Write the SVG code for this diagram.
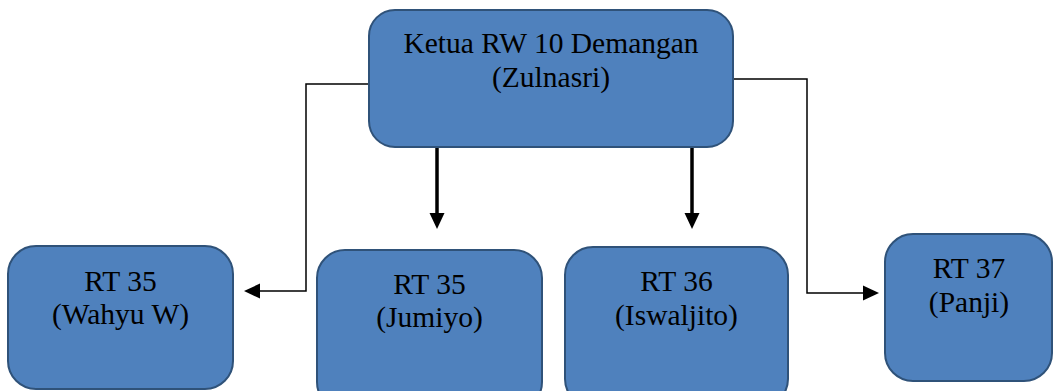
<svg xmlns="http://www.w3.org/2000/svg" width="1054" height="391" viewBox="0 0 1054 391">
<style>
.box{fill:#4F81BD;stroke:#2F5279;stroke-width:2}
.t{font-family:"Liberation Serif","Times New Roman",serif;font-size:29.5px;fill:#000;text-anchor:middle}
.thin{fill:none;stroke:#000;stroke-width:1.5}
.thick{fill:none;stroke:#000;stroke-width:3.5}
</style>
<defs>
<marker id="ah" markerUnits="userSpaceOnUse" markerWidth="16" markerHeight="16" refX="0" refY="7.5" orient="auto" overflow="visible">
<path d="M0,0 L16,7.5 L0,15 z" fill="#000"/>
</marker>
</defs>
<g id="connectors">
<path class="thin" d="M369,84 H306 V291 H260" marker-end="url(#ah)"/>
<path class="thin" d="M733,79 H807 V293 H863" marker-end="url(#ah)"/>
<path class="thick" d="M437,147 V213" marker-end="url(#ah)"/>
<path class="thick" d="M692,147 V213" marker-end="url(#ah)"/>
</g>
<g id="ketua">
<rect class="box" x="369" y="10" width="364" height="137" rx="26"/>
<text class="t" x="551" y="53">Ketua RW 10 Demangan</text>
<text class="t" x="551" y="87">(Zulnasri)</text>
</g>
<g id="rt35-wahyu">
<rect class="box" x="8" y="246" width="225" height="143" rx="28"/>
<text class="t" x="120.5" y="291">RT 35</text>
<text class="t" x="120.5" y="324">(Wahyu W)</text>
</g>
<g id="rt35-jumiyo">
<rect class="box" x="317" y="250" width="225" height="160" rx="28"/>
<text class="t" x="429.5" y="294">RT 35</text>
<text class="t" x="429.5" y="327">(Jumiyo)</text>
</g>
<g id="rt36-iswaljito">
<rect class="box" x="565" y="247" width="223" height="160" rx="28"/>
<text class="t" x="676.5" y="291">RT 36</text>
<text class="t" x="676.5" y="325">(Iswaljito)</text>
</g>
<g id="rt37-panji">
<rect class="box" x="885" y="234" width="167" height="147" rx="28"/>
<text class="t" x="969" y="278">RT 37</text>
<text class="t" x="969" y="312">(Panji)</text>
</g>
</svg>
